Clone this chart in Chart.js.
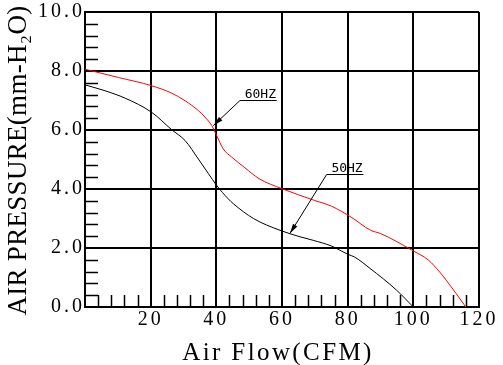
<!DOCTYPE html>
<html>
<head>
<meta charset="utf-8">
<script src="https://cdn.jsdelivr.net/npm/chart.js@4/dist/chart.umd.min.js"></script>
<style>
  html, body { margin: 0; padding: 0; background: #fff; }
  #graph { display: block; }
</style>
</head>
<body>
<canvas id="graph" width="503" height="365"></canvas>
<script>
'use strict';

// 60 Hz curve (red)
var flow60 = [0, 10.2, 20.3, 26.4, 30.5, 34.5, 36.6, 38.6, 40.1, 42.1, 44.7, 48.7, 53, 60, 70, 75, 81, 87, 90, 100, 104.6, 108, 110, 113, 116];
var pressure60 = [8.06, 7.78, 7.50, 7.25, 6.99, 6.66, 6.43, 6.15, 5.81, 5.36, 5.08, 4.72, 4.35, 4.01, 3.61, 3.42, 3.05, 2.60, 2.49, 1.90, 1.59, 1.19, 0.91, 0.46, 0];

// 50 Hz curve (black)
var flow50 = [0, 6.1, 12.2, 20.3, 26.4, 30.5, 34.5, 37.6, 40.1, 43.6, 45.2, 51.3, 59.4, 65.5, 69.5, 75, 80.2, 82, 86.8, 94.9, 100];
var pressure50 = [7.53, 7.33, 7.08, 6.60, 6.01, 5.64, 5.02, 4.52, 4.12, 3.67, 3.50, 3.00, 2.60, 2.38, 2.26, 2.07, 1.78, 1.70, 1.31, 0.57, 0];

var xTicks = [0, 20, 40, 60, 80, 100, 120];
var yTicks = [0, 2, 4, 6, 8, 10];
var curveLabels = ['60HZ', '50HZ'];
var xTitle = 'Air Flow(CFM)';
var yTitle = 'AIR PRESSURE(mm-H\u2082O)';

function points(xs, ys) {
    return xs.map(function (x, i) { return { x: x, y: ys[i] }; });
}

// leader lines: underline from (x0..x1, y) and arrow to (tx, ty), data units
var leaders = [
    { text: curveLabels[0], x0: 47.2, x1: 58.4, y: 7.02, tx: 39.1, ty: 6.15 },
    { text: curveLabels[1], x0: 73.6, x1: 84.8, y: 4.52, tx: 62.4, ty: 2.49 }
];

// wide, typewriter-like spacing for the tick labels
var tickSpacing = {
    id: 'tickSpacing',
    beforeLayout: function (chart) { chart.ctx.letterSpacing = '3px'; },
    beforeDraw: function (chart) { chart.ctx.letterSpacing = '3px'; }
};

var minorTicks = {
    id: 'minorTicks',
    beforeDatasetsDraw: function (chart) {
        var ctx = chart.ctx, xs = chart.scales.x, ys = chart.scales.y;
        var bottom = ys.getPixelForValue(0), left = xs.getPixelForValue(0);
        ctx.save();
        ctx.strokeStyle = '#000';
        ctx.lineWidth = 1.5;
        ctx.beginPath();
        for (var v = 4; v < 120; v += 4) {
            if (v % 20 === 0) continue;
            var px = Math.round(xs.getPixelForValue(v)) + 0.5;
            ctx.moveTo(px, bottom);
            ctx.lineTo(px, bottom - 12);
        }
        for (var k = 1; k < 25; k++) {
            if (k % 5 === 0) continue;
            var py = Math.round(ys.getPixelForValue(k * 0.4)) + 0.5;
            ctx.moveTo(left, py);
            ctx.lineTo(left + 13, py);
        }
        ctx.stroke();
        ctx.restore();
    }
};

var leaderLabels = {
    id: 'leaderLabels',
    afterDatasetsDraw: function (chart) {
        var ctx = chart.ctx, xs = chart.scales.x, ys = chart.scales.y;
        ctx.save();
        ctx.letterSpacing = '0px';
        ctx.strokeStyle = '#000';
        ctx.fillStyle = '#000';
        ctx.lineWidth = 1;
        leaders.forEach(function (l) {
            var x0 = xs.getPixelForValue(l.x0), x1 = xs.getPixelForValue(l.x1);
            var y = Math.round(ys.getPixelForValue(l.y)) + 0.5;
            var tx = xs.getPixelForValue(l.tx), ty = ys.getPixelForValue(l.ty);
            ctx.beginPath();
            ctx.moveTo(x1, y);
            ctx.lineTo(x0, y);
            ctx.lineTo(tx, ty);
            ctx.stroke();
            // arrow head
            var a = Math.atan2(ty - y, tx - x0);
            var len = 10, w = 2.5;
            ctx.beginPath();
            ctx.moveTo(tx, ty);
            ctx.lineTo(tx - len * Math.cos(a) + w * Math.sin(a), ty - len * Math.sin(a) - w * Math.cos(a));
            ctx.lineTo(tx - len * Math.cos(a) - w * Math.sin(a), ty - len * Math.sin(a) + w * Math.cos(a));
            ctx.closePath();
            ctx.fill();
            ctx.font = '13px "DejaVu Sans Mono"';
            ctx.textAlign = 'center';
            ctx.textBaseline = 'alphabetic';
            ctx.fillText(l.text, (x0 + x1) / 2 + 2, y - 3);
        });
        ctx.restore();
    }
};

var axisTitles = {
    id: 'axisTitles',
    afterDraw: function (chart) {
        var ctx = chart.ctx, area = chart.chartArea;
        ctx.save();
        ctx.fillStyle = '#000';
        ctx.textBaseline = 'alphabetic';
        ctx.textAlign = 'center';

        ctx.letterSpacing = '2.4px';
        ctx.font = '25px "Liberation Serif"';
        ctx.fillText(xTitle, (area.left + area.right) / 2 - 4, 360);

        ctx.letterSpacing = '0.3px';
        ctx.font = '27px "Liberation Serif"';
        ctx.translate(26, (area.top + area.bottom) / 2 + 1);
        ctx.rotate(-Math.PI / 2);
        ctx.fillText(yTitle, 0, 0);
        ctx.restore();
    }
};

new Chart('graph', {
    type: 'line',
    data: {
        datasets: [{
            label: curveLabels[0],
            data: points(flow60, pressure60),
            borderColor: '#ff0000',
            borderWidth: 1,
            pointRadius: 0,
            cubicInterpolationMode: 'monotone'
        }, {
            label: curveLabels[1],
            data: points(flow50, pressure50),
            borderColor: '#000000',
            borderWidth: 1,
            pointRadius: 0,
            cubicInterpolationMode: 'monotone'
        }]
    },
    options: {
        responsive: false,
        animation: false,
        layout: { padding: { top: 11, right: 24, left: 0, bottom: 0 } },
        plugins: { legend: { display: false }, tooltip: { enabled: false } },
        scales: {
            x: {
                type: 'linear',
                min: 0,
                max: 120,
                afterBuildTicks: function (s) { s.ticks = xTicks.map(function (v) { return { value: v }; }); },
                afterFit: function (s) { s.height = 58; },
                ticks: {
                    color: '#000',
                    font: { family: 'Liberation Serif', size: 20 },
                    padding: 1,
                    maxRotation: 0,
                    callback: function (v) { return v === 0 ? '' : v; }
                },
                grid: { color: '#000', lineWidth: 2, drawTicks: false },
                border: { color: '#000', width: 2 }
            },
            y: {
                min: 0,
                max: 10,
                afterBuildTicks: function (s) { s.ticks = yTicks.map(function (v) { return { value: v }; }); },
                afterFit: function (s) { s.width = 85; },
                ticks: {
                    color: '#000',
                    font: { family: 'Liberation Serif', size: 20 },
                    padding: 0,
                    callback: function (v) { return v.toFixed(1); }
                },
                grid: { color: '#000', lineWidth: 2, drawTicks: false },
                border: { color: '#000', width: 2 }
            }
        }
    },
    plugins: [tickSpacing, minorTicks, leaderLabels, axisTitles]
});
</script>
</body>
</html>
